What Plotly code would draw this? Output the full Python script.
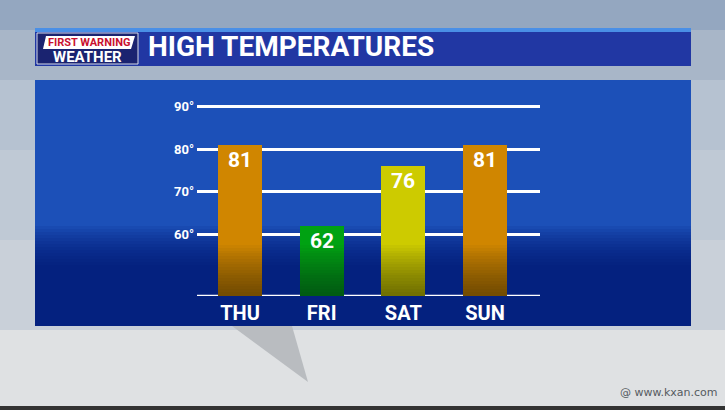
import plotly.graph_objects as go

# ---- data ----
days = ["THU", "FRI", "SAT", "SUN"]
highs = [81, 62, 76, 81]
bar_colors = ["#d08600", "#00a212", "#cdcb00", "#d08600"]
tick_vals = [60, 70, 80, 90]
tick_text = ["60°", "70°", "80°", "90°"]
y_base = 45.5

W, H = 725, 410
L, R, T, B = 197, 185, 100, 114  # plot area: x 197..540, y 100..296
PW, PH = W - L - R, H - T - B


def px(x):
    return (x - L) / PW


def py(y):
    return (H - B - y) / PH


fig = go.Figure()

fig.add_trace(go.Bar(
    x=days, y=[h - y_base for h in highs], base=y_base,
    marker=dict(color=bar_colors, line=dict(width=0)),
    width=0.54,
    text=[str(h) for h in highs], textposition="inside",
    insidetextanchor="end", textangle=0,
    textfont=dict(family="Roboto", size=21, color="white", weight="bold"),
    hoverinfo="skip", showlegend=False,
))

# darkening toward the bottom of each bar (style overlay)
for k in range(18):
    top = 57.5 - k * 0.65
    fig.add_trace(go.Bar(
        x=days, y=[top - y_base] * len(days), base=y_base,
        marker=dict(color="rgba(30,15,40,0.035)", line=dict(width=0)),
        width=0.54, hoverinfo="skip", showlegend=False,
    ))

shapes = []
# background sky approximations
bg_bands = [
    (0, 30, "#94a7c0"), (30, 80, "#a8b6c8"), (80, 150, "#b6c2d1"),
    (150, 240, "#bfc9d5"), (240, 330, "#c9d0d9"), (330, 410, "#dfe1e3"),
]
for y0, y1, c in bg_bands:
    shapes.append(dict(type="rect", xref="paper", yref="paper", layer="below",
                       x0=px(0), x1=px(W), y0=py(y1), y1=py(y0),
                       fillcolor=c, line=dict(width=0)))
# gray diagonal panel at bottom
shapes.append(dict(type="path", xref="paper", yref="paper", layer="below",
                   path=f"M {px(232)},{py(326)} L {px(292)},{py(326)} L {px(308)},{py(382)} Z",
                   fillcolor="#b9bcc0", line=dict(width=0)))
# bottom dark strip
shapes.append(dict(type="rect", xref="paper", yref="paper", layer="below",
                   x0=px(0), x1=px(W), y0=py(410), y1=py(406),
                   fillcolor="#333333", line=dict(width=0)))
# title bar
shapes.append(dict(type="rect", xref="paper", yref="paper", layer="below",
                   x0=px(35), x1=px(691), y0=py(32), y1=py(28),
                   fillcolor="#4a8fe6", line=dict(width=0)))
shapes.append(dict(type="rect", xref="paper", yref="paper", layer="below",
                   x0=px(35), x1=px(691), y0=py(66), y1=py(32),
                   fillcolor="#2137a3", line=dict(width=0)))
# logo
shapes.append(dict(type="rect", xref="paper", yref="paper", layer="below",
                   x0=px(37), x1=px(138), y0=py(64), y1=py(33),
                   fillcolor="#1a2370", line=dict(color="#d8dde8", width=1)))
shapes.append(dict(type="path", xref="paper", yref="paper", layer="below",
                   path=f"M {px(43)},{py(49)} L {px(131)},{py(49)} L {px(135)},{py(36)} L {px(46)},{py(36)} Z",
                   fillcolor="white", line=dict(width=0)))
# main panel with vertical gradient
panel_top = "#1c50b8"
shapes.append(dict(type="rect", xref="paper", yref="paper", layer="below",
                   x0=px(35), x1=px(691), y0=py(326), y1=py(80),
                   fillcolor=panel_top, line=dict(width=0)))
for k in range(14):
    y0 = 226 + k * 3
    shapes.append(dict(type="rect", xref="paper", yref="paper", layer="below",
                       x0=px(35), x1=px(691), y0=py(326), y1=py(y0),
                       fillcolor="rgba(5,25,110,0.09)", line=dict(width=0)))
# baseline
shapes.append(dict(type="line", xref="paper", yref="y", layer="below",
                   x0=0, x1=1, y0=y_base, y1=y_base,
                   line=dict(color="white", width=2.5)))

annotations = [
    dict(text="HIGH TEMPERATURES", xref="paper", yref="paper",
         x=px(146), y=py(47), xanchor="left", yanchor="middle", showarrow=False,
         font=dict(family="Roboto", size=28, color="white", weight="bold")),
    dict(text="FIRST WARNING", xref="paper", yref="paper",
         x=px(89), y=py(42.5), xanchor="center", yanchor="middle", showarrow=False,
         font=dict(family="Roboto", size=11, color="#c8102e", weight="bold")),
    dict(text="WEATHER", xref="paper", yref="paper",
         x=px(87), y=py(57), xanchor="center", yanchor="middle", showarrow=False,
         font=dict(family="Roboto", size=15, color="white", weight="bold")),
    dict(text="@ www.kxan.com", xref="paper", yref="paper",
         x=px(720), y=py(392), xanchor="right", yanchor="middle", showarrow=False,
         font=dict(family="DejaVu Sans", size=11, color="#555a60")),
]

fig.update_layout(
    width=W, height=H,
    margin=dict(l=L, r=R, t=T, b=B, autoexpand=False),
    paper_bgcolor="#c0c9d4", plot_bgcolor="rgba(0,0,0,0)",
    barmode="overlay", bargap=0,
    shapes=shapes, annotations=annotations,
    xaxis=dict(range=[-0.526, 3.673], showgrid=False, zeroline=False,
               showline=False, ticks="", ticklabelstandoff=3,
               tickfont=dict(family="Roboto", size=20, color="white", weight="bold"),
               fixedrange=True),
    yaxis=dict(range=[y_base, y_base + PH / 4.25], tickvals=tick_vals,
               ticktext=tick_text, showgrid=True, gridcolor="white",
               gridwidth=2.5, zeroline=False, showline=False, ticks="",
               ticklabelstandoff=2,
               tickfont=dict(family="Roboto", size=13, color="white", weight="bold"),
               fixedrange=True),
    showlegend=False,
)

fig.write_html("out.html", config={"displayModeBar": False},
               post_script="document.body.style.margin='0';document.body.style.padding='0';")
